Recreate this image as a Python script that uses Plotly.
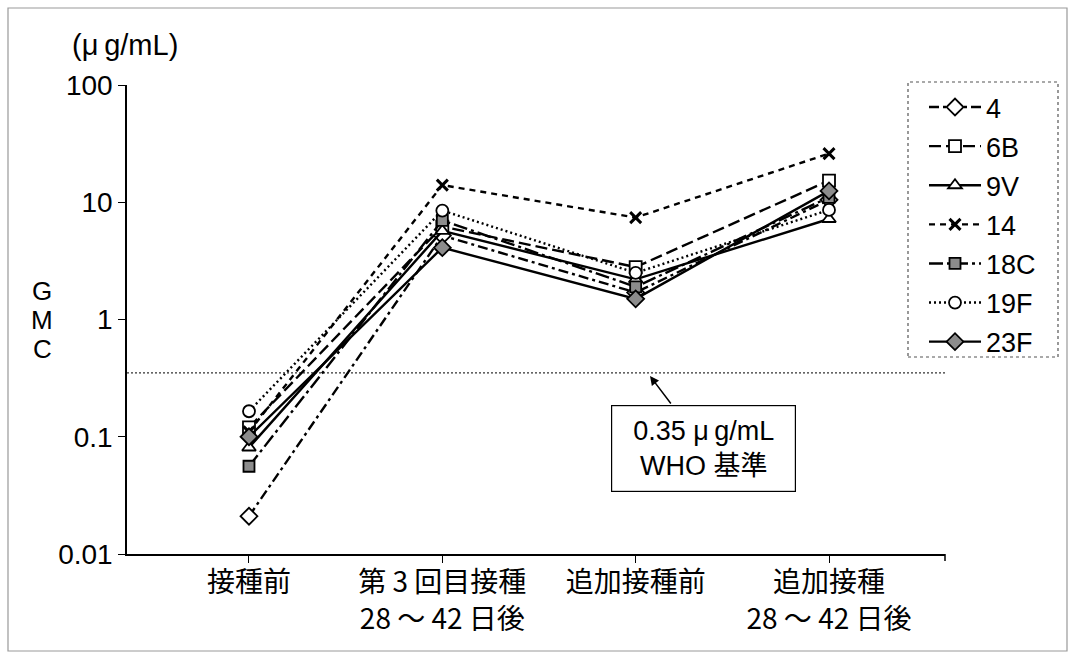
import plotly.graph_objects as go

categories = ["接種前", "第 3 回目接種<br>28 ～ 42 日後", "追加接種前", "追加接種<br>28 ～ 42 日後"]
x_pos = [0, 1, 2, 3]

series_names = ["4", "6B", "9V", "14", "18C", "19F", "23F"]
gmc_4 = [0.021, 5.2, 1.7, 10.5]
gmc_6B = [0.12, 6.2, 2.8, 15.3]
gmc_9V = [0.081, 5.7, 2.2, 7.2]
gmc_14 = [0.11, 14.0, 7.4, 26.0]
gmc_18C = [0.056, 7.0, 1.9, 11.0]
gmc_19F = [0.165, 8.5, 2.5, 8.6]
gmc_23F = [0.10, 4.1, 1.5, 12.5]
who_level = 0.35

values = [gmc_4, gmc_6B, gmc_9V, gmc_14, gmc_18C, gmc_19F, gmc_23F]
dashes = ["10px,4px,3px,4px", "12px,5px", "solid", "6px,5px",
          "14px,4px,3px,4px", "2px,3px", "solid"]
symbols = ["diamond", "square", "triangle-up", "x-thin",
           "square", "circle", "diamond"]
fills = ["white", "white", "white", "black", "#8c8c8c", "white", "#8c8c8c"]
sizes = [13, 12, 12, 11, 11, 12, 13]

FONT = "Liberation Sans, Arial, Noto Sans CJK JP"
CJK = "Noto Sans CJK JP"

fig = go.Figure()

# WHO reference line
fig.add_trace(go.Scatter(
    x=[-0.631, 3.60], y=[who_level, who_level], mode="lines",
    line=dict(color="#333333", width=1.2, dash="2px,2px"),
    showlegend=False, hoverinfo="skip"))

for i, name in enumerate(series_names):
    if symbols[i] == "x-thin":
        mk = dict(symbol="x-thin", size=sizes[i], line=dict(color="black", width=3))
    else:
        mk = dict(symbol=symbols[i], size=sizes[i], color=fills[i],
                  line=dict(color="black", width=1.8))
    fig.add_trace(go.Scatter(
        x=x_pos, y=values[i], mode="lines+markers", name=name,
        line=dict(color="black", width=2.4, dash=dashes[i]),
        marker=mk, legendgroup=name))

L, R, T, B = 127, 130, 85, 105
W, H = 1075, 659
pw, ph = W - L - R, H - T - B

def px(xp):
    return (xp - L) / pw

def py(yp):
    return (H - B - yp) / ph

fig.update_layout(
    width=W, height=H,
    margin=dict(l=L, r=R, t=T, b=B),
    paper_bgcolor="white", plot_bgcolor="white",
    font=dict(family=FONT, size=26, color="black"),
    xaxis=dict(range=[-0.631, 3.60], tickmode="array", tickvals=x_pos,
               ticktext=categories, showline=True, linecolor="black",
               linewidth=1.5, ticks="outside", ticklen=7, tickcolor="black",
               showgrid=False, zeroline=False, ticklabelstandoff=-4,
               tickfont=dict(family=CJK, size=28)),
    yaxis=dict(type="log", range=[-2, 2], tickmode="array",
               tickvals=[0.01, 0.1, 1, 10, 100],
               ticktext=["0.01", "0.1", "1", "10", "100"],
               showline=True, linecolor="black", linewidth=1.5,
               ticks="outside", ticklen=7, tickcolor="black",
               showgrid=False, zeroline=False,
               tickfont=dict(family=FONT, size=28)),
    legend=dict(x=px(924), y=py(83), xanchor="left", yanchor="top",
                bgcolor="rgba(0,0,0,0)", borderwidth=0,
                font=dict(family=FONT, size=27), tracegroupgap=1,
                itemwidth=52),
    showlegend=True,
)

# legend border box
fig.add_shape(type="rect", xref="paper", yref="paper",
              x0=px(908), x1=px(1058), y0=py(357), y1=py(82),
              line=dict(color="#555555", width=1.2, dash="dot"))
# outer frame
fig.add_shape(type="rect", xref="paper", yref="paper",
              x0=px(8), x1=px(1067), y0=py(651), y1=py(8),
              line=dict(color="#999999", width=1.2))
# right end tick of x axis
fig.add_shape(type="line", xref="paper", yref="paper",
              x0=1, x1=1, y0=0, y1=py(561),
              line=dict(color="black", width=1.5))

# unit label
fig.add_annotation(xref="paper", yref="paper", x=px(125), y=py(45),
                   xanchor="center", yanchor="middle",
                   text="(μ\u2009g/mL)", showarrow=False,
                   font=dict(family=FONT, size=29))
# GMC vertical label
for letter, yy in zip(["G", "M", "C"], [291, 320, 349]):
    fig.add_annotation(xref="paper", yref="paper", x=px(42), y=py(yy),
                       xanchor="center", yanchor="middle",
                       text=letter, showarrow=False,
                       font=dict(family=FONT, size=26))

# WHO annotation box
fig.add_annotation(xref="paper", yref="paper", x=px(703), y=py(448),
                   xanchor="center", yanchor="middle",
                   text="0.35 μ\u2009g/mL<br>WHO 基準", showarrow=False,
                   font=dict(family=FONT, size=27),
                   bordercolor="black", borderwidth=1.2, borderpad=4,
                   bgcolor="white", width=175, height=77)
fig.add_annotation(xref="paper", yref="paper", x=px(650), y=py(376),
                   ax=22, ay=29, axref="pixel", ayref="pixel",
                   text="", showarrow=True, arrowhead=2, arrowsize=1.2,
                   arrowwidth=1.5, arrowcolor="black")

fig.write_html("out.html")
